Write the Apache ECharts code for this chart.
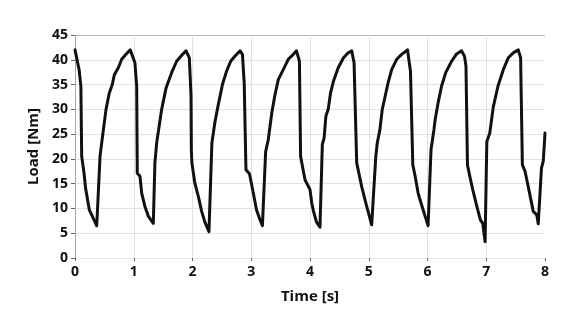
<!DOCTYPE html>
<html>
<head>
<meta charset="utf-8">
<script src="https://cdn.jsdelivr.net/npm/echarts@6/dist/echarts.min.js"></script>
<style>
html,body{margin:0;padding:0;background:#fff;}
#chart{width:577px;height:320px;}
</style>
</head>
<body>
<div id="chart"></div>
<script>
const timeS = [0, 0.07, 0.10, 0.114, 0.153, 0.18, 0.244, 0.312, 0.37, 0.426, 0.454, 0.528, 0.584, 0.635, 0.67, 0.737, 0.795, 0.868, 0.94,
  0.965, 1.02, 1.05, 1.06, 1.106, 1.135, 1.19, 1.25, 1.333, 1.36, 1.39, 1.475, 1.55, 1.645, 1.73, 1.816, 1.89, 1.946, 1.975, 1.98, 1.99,
  2.04, 2.1, 2.156, 2.21, 2.28, 2.33, 2.38, 2.44, 2.51, 2.58, 2.65, 2.72, 2.81, 2.85, 2.88, 2.91,
  2.97, 3.035, 3.09, 3.14, 3.19, 3.245, 3.29, 3.35, 3.4, 3.46, 3.545, 3.63, 3.716, 3.77, 3.82, 3.84, 3.915,
  4.0, 4.03, 4.06, 4.11, 4.17, 4.21, 4.24, 4.27, 4.31, 4.35, 4.4, 4.48, 4.57, 4.65, 4.71, 4.75, 4.795, 4.88, 4.965,
  5.05, 5.08, 5.12, 5.145, 5.19, 5.23, 5.28, 5.33, 5.39, 5.475, 5.56, 5.66, 5.71, 5.75, 5.79, 5.84, 5.9, 5.96,
  6.01, 6.06, 6.11, 6.13, 6.18, 6.24, 6.31, 6.41, 6.49, 6.58, 6.63, 6.655, 6.68, 6.72, 6.77, 6.84, 6.9, 6.94, 6.98,
  7.01, 7.06, 7.12, 7.2, 7.29, 7.375, 7.46, 7.545, 7.585, 7.615, 7.66, 7.72, 7.8, 7.86, 7.885, 7.91, 7.94, 7.97, 8.0];
const loadNm = [42, 38, 34.7, 20.5, 17.2, 14.1, 9.7, 8.0, 6.5, 20.5, 23.2, 30, 33.3, 35, 37, 38.4, 40.1, 41.1, 42,
  41.8, 39.4, 34.7, 17.1, 16.5, 13.1, 10.4, 8.4, 7.0, 19.2, 23.2, 30, 34.3, 37.4, 39.7, 40.9, 41.8, 40.4, 32.7, 21.9, 19.2,
  15.1, 12.4, 9.4, 7.3, 5.3, 23.2, 27.3, 31, 35, 37.7, 39.7, 40.7, 41.8, 41.1, 35.4, 17.8,
  17.0, 13.1, 9.7, 8.0, 6.5, 21.5, 23.9, 29.3, 32.7, 36, 38, 40.1, 41.1, 41.8, 39.7, 20.5, 15.8,
  13.8, 11.1, 9.4, 7.3, 6.2, 22.9, 24.2, 28.6, 30, 33.3, 35.7, 38.4, 40.4, 41.4, 41.8, 39.4, 19.2, 14.4, 10.4,
  6.7, 6.3, 20.5, 23.2, 25.9, 30, 32.7, 35.4, 38, 40.1, 41.1, 42, 37.7, 18.8, 16.5, 13.1, 10.7, 8.4,
  6.5, 21.9, 25.9, 27.9, 31.3, 34.7, 37.4, 39.7, 41.1, 41.8, 40.7, 38.7, 18.8, 16.5, 13.8, 10.4, 7.7, 7.0, 3.3,
  23.5, 25.2, 30.5, 34.7, 38, 40.4, 41.4, 42, 40.4, 18.8, 17.5, 14.1, 9.4, 8.7, 6.9, 7.3, 18.2, 19.5, 25.2];

const xTitle = 'Time [s]';
const yTitle = 'Load [Nm]';

const series = timeS.map((t, i) => [t, loadNm[i]]);
const font = '"Open Sans", "Noto Sans", sans-serif';

const chart = echarts.init(document.getElementById('chart'), null, {renderer: 'canvas'});
chart.setOption({
  animation: false,
  backgroundColor: '#fff',
  grid: {left: 75, right: 32, top: 35, bottom: 62, containLabel: false},
  xAxis: {
    type: 'value', min: 0, max: 8, interval: 1, offset: 3,
    name: xTitle, nameLocation: 'middle', nameGap: 28,
    nameTextStyle: {fontFamily: font, fontWeight: 'bold', fontSize: 15, color: '#111'},
    axisLine: {show: false},
    axisTick: {show: true, length: 3, lineStyle: {color: '#666', width: 1}},
    axisLabel: {margin: 4, fontFamily: font, fontWeight: 'bold', fontSize: 14, color: '#111'},
    splitLine: {show: true, showMinLine: false, showMaxLine: false, lineStyle: {color: '#e2e2e2', width: 1}}
  },
  yAxis: {
    type: 'value', min: 0, max: 45, interval: 5,
    name: yTitle, nameLocation: 'middle', nameGap: 30, nameRotate: 90,
    nameTextStyle: {fontFamily: font, fontWeight: 'bold', fontSize: 15, color: '#111'},
    axisLine: {show: true, lineStyle: {color: '#a8a8a8', width: 1}},
    axisTick: {show: true, length: 4, lineStyle: {color: '#666', width: 1}},
    axisLabel: {margin: 7, fontFamily: font, fontWeight: 'bold', fontSize: 14, color: '#111'},
    splitLine: {show: true, lineStyle: {color: ['#e6e6e6','#e2e2e2','#e2e2e2','#e2e2e2','#e2e2e2','#e2e2e2','#e2e2e2','#e2e2e2','#e2e2e2','#b4b4b4'], width: 1}}
  },
  series: [{
    type: 'line', data: series, showSymbol: false, smooth: false,
    lineStyle: {color: '#111', width: 3, join: 'round', cap: 'round'}
  }]
});
</script>
</body>
</html>
